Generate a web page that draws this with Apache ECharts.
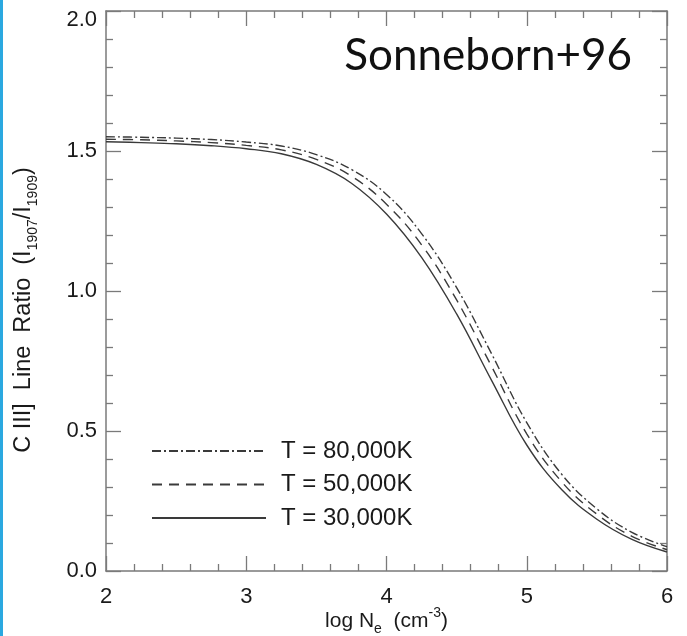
<!DOCTYPE html>
<html>
<head>
<meta charset="utf-8">
<script src="https://cdn.jsdelivr.net/npm/echarts@6/dist/echarts.min.js"></script>
<style>
html,body{margin:0;padding:0;background:#fff;}
#chart{width:687px;height:636px;}
</style>
</head>
<body>
<div id="chart"></div>
<script>
// log N_e sample positions
const logNe = [2.0, 2.25, 2.5, 2.75, 3.0, 3.25, 3.5, 3.75, 4.0, 4.25, 4.5, 4.75, 5.0, 5.25, 5.5, 5.75, 6.0];
// T = 30,000K (solid)
const ratio30k = [1.533, 1.530, 1.526, 1.519, 1.508, 1.490, 1.452, 1.385, 1.275, 1.12, 0.918, 0.68, 0.45, 0.29, 0.185, 0.113, 0.068];
// T = 50,000K (dashed)
const ratio50k = [1.542, 1.540, 1.536, 1.530, 1.520, 1.504, 1.470, 1.41, 1.31, 1.165, 0.968, 0.73, 0.49, 0.318, 0.203, 0.124, 0.076];
// T = 80,000K (dash-dot)
const ratio80k = [1.551, 1.549, 1.546, 1.541, 1.532, 1.518, 1.487, 1.434, 1.345, 1.205, 1.012, 0.775, 0.53, 0.345, 0.222, 0.138, 0.087];
const seriesNames = ['T = 80,000K', 'T = 50,000K', 'T = 30,000K'];
const xTicks = [2, 3, 4, 5, 6];
const yTicks = ['0.0', '0.5', '1.0', '1.5', '2.0'];

const pair = (ys) => logNe.map((x, i) => [x, ys[i]]);

const chart = echarts.init(document.getElementById('chart'), null, {renderer: 'canvas'});
const FONT = '"Liberation Sans", Arial, sans-serif';
const axisColor = '#7a7a7a';
const textColor = '#1a1a1a';
const labelFont = {fontFamily: FONT, fontSize: 22, color: textColor};
const lineColor = '#3a3a3a';

const baseX = {
  type: 'value', min: 2, max: 6, interval: 1,
  axisLine: {show: true, onZero: false, lineStyle: {color: axisColor, width: 1.5}},
  axisTick: {show: true, inside: true, length: 15, lineStyle: {color: axisColor, width: 1.3}},
  minorTick: {show: true, splitNumber: 5, length: 7, lineStyle: {color: axisColor, width: 1.3}},
  splitLine: {show: false}
};
const baseY = {
  type: 'value', min: 0, max: 2, interval: 0.5,
  axisLine: {show: true, onZero: false, lineStyle: {color: axisColor, width: 1.5}},
  axisTick: {show: true, inside: true, length: 15, lineStyle: {color: axisColor, width: 1.3}},
  minorTick: {show: true, splitNumber: 5, length: 7, lineStyle: {color: axisColor, width: 1.3}},
  splitLine: {show: false}
};

const richText = {
  sub: {fontSize: 14, verticalAlign: 'bottom', lineHeight: 14, fontFamily: FONT, color: textColor},
  sup: {fontSize: 14, verticalAlign: 'top', lineHeight: 14, fontFamily: FONT, color: textColor},
  top: {fontFamily: FONT, fontSize: 22, color: textColor, padding: [18, 0, 0, 0]}
};

chart.setOption({
  animation: false,
  backgroundColor: '#fff',
  grid: {left: 106, right: 20, top: 11, bottom: 65, containLabel: false, outerBoundsMode: 'none'},
  xAxis: [
    Object.assign({}, baseX, {
      position: 'bottom',
      axisLabel: Object.assign({}, labelFont, {margin: 15, formatter: (v) => xTicks.includes(v) ? String(v) : ''}),
      name: 'log N{sub|e}  (cm{sup|-3})',
      nameLocation: 'middle', nameGap: 35, nameMoveOverlap: false,
      nameTextStyle: {fontFamily: FONT, fontSize: 21, color: textColor, lineHeight: 30, rich: richText}
    }),
    Object.assign({}, baseX, {position: 'top', axisLabel: {show: false}})
  ],
  yAxis: [
    Object.assign({}, baseY, {
      position: 'left',
      axisLabel: Object.assign({}, labelFont, {margin: 9, rich: richText,
        formatter: (v) => v === 2 ? '{top|2.0}' : yTicks[Math.round(v * 2)]})
    }),
    Object.assign({}, baseY, {position: 'right', axisLabel: {show: false}})
  ],
  legend: {
    orient: 'vertical', left: 146, top: 434,
    data: seriesNames,
    itemWidth: 114, itemHeight: 14, itemGap: 9.5,
    itemStyle: {opacity: 0},
    textStyle: {fontFamily: FONT, fontSize: 24, lineHeight: 24, color: textColor, padding: [0, 0, 0, 10]},
    selectedMode: false
  },
  series: [
    {name: seriesNames[0], type: 'line', smooth: 0.4, symbol: 'none', data: pair(ratio80k),
     lineStyle: {color: lineColor, width: 1.4, type: [9, 3, 2, 3]}, itemStyle: {color: lineColor}},
    {name: seriesNames[1], type: 'line', smooth: 0.4, symbol: 'none', data: pair(ratio50k),
     lineStyle: {color: lineColor, width: 1.4, type: [10, 7]}, itemStyle: {color: lineColor}},
    {name: seriesNames[2], type: 'line', smooth: 0.4, symbol: 'none', data: pair(ratio30k),
     lineStyle: {color: lineColor, width: 1.4, type: 'solid'}, itemStyle: {color: lineColor}}
  ],
  graphic: [
    {type: 'rect', left: 0, top: 0, shape: {x: 0, y: 0, width: 3, height: 636}, style: {fill: '#2aa8e0'}, silent: true},
    {type: 'text', right: 55, top: 34, style: {text: 'Sonneborn+96', font: '44px Lato, "Open Sans", sans-serif', fill: '#111'}, silent: true},
    {type: 'text', x: 24, y: 310, rotation: Math.PI / 2, silent: true,
     style: {text: 'C III]  Line  Ratio  (I{sub|1907}/I{sub|1909})', fontFamily: FONT, fontSize: 23.5, lineHeight: 32,
       fill: textColor, align: 'center', verticalAlign: 'middle', rich: richText}}
  ]
});
</script>
</body>
</html>
